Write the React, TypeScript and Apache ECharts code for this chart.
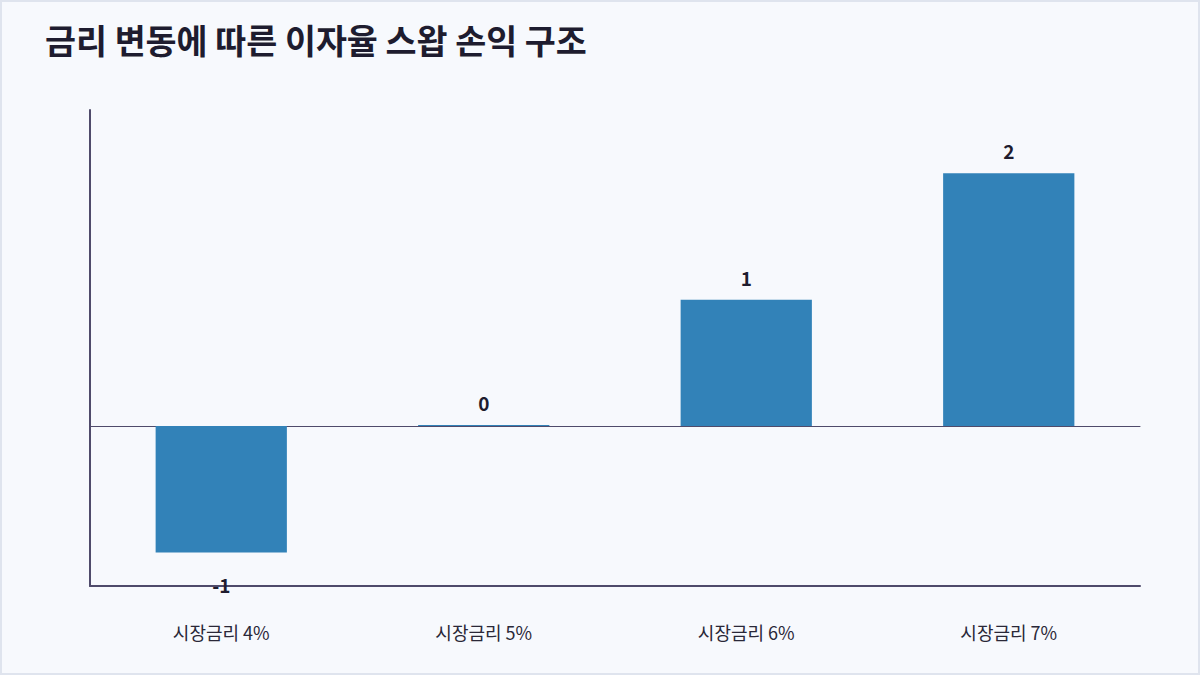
import * as echarts from "echarts";
import { useEffect, useRef } from "react";

const categories = ["시장금리 4%", "시장금리 5%", "시장금리 6%", "시장금리 7%"];
const values = [-1, 0, 1, 2];

const TITLE = "금리 변동에 따른 이자율 스왑 손익 구조";
const FONT = "'Noto Sans CJK KR', 'Noto Sans', sans-serif";

export default function App() {
  const chartRef = useRef<HTMLDivElement>(null);

  useEffect(() => {
    document.body.style.margin = "0";
    if (!chartRef.current) return;

    const chart = echarts.init(chartRef.current, null, { renderer: "svg" });

    const option: echarts.EChartsOption = {
      animation: false,
      textStyle: { fontFamily: FONT },
      title: {
        text: TITLE,
        left: 38,
        top: 16,
        textStyle: { fontSize: 33.7, fontWeight: "bold", color: "#1e1c2f", fontFamily: FONT },
      },
      grid: { left: 88, right: 58, top: 108, bottom: 87 },
      xAxis: [
        {
          type: "category",
          data: categories,
          axisLine: { onZero: false, lineStyle: { color: "#4f4b6b", width: 2 } },
          axisTick: { show: false },
          axisLabel: { margin: 37, fontSize: 18, color: "#2a2838", fontFamily: FONT },
        },
        {
          // zero line
          type: "category",
          data: categories,
          position: "bottom",
          axisLine: { onZero: true, lineStyle: { color: "#4f4b6b", width: 1 } },
          axisTick: { show: false },
          axisLabel: { show: false },
        },
      ],
      yAxis: {
        type: "value",
        min: -1.265,
        max: 2.5,
        axisLine: { show: true, lineStyle: { color: "#4f4b6b", width: 2 } },
        axisTick: { show: false },
        axisLabel: { show: false },
        splitLine: { show: false },
      },
      series: [
        {
          type: "bar",
          barWidth: "50%",
          barMinHeight: 1,
          itemStyle: { color: "#3282b8" },
          data: values.map((v) => ({
            value: v,
            label:
              v < 0
                ? { position: "bottom", distance: 22 }
                : { position: "top", distance: 13 },
          })),
          label: {
            show: true,
            fontSize: 19,
            fontWeight: "bold",
            color: "#1e1c2f",
            fontFamily: FONT,
          },
        },
      ],
    };

    chart.setOption(option);

    const handleResize = () => chart.resize();
    window.addEventListener("resize", handleResize);

    return () => {
      window.removeEventListener("resize", handleResize);
      chart.dispose();
    };
  }, []);

  return (
    <div
      style={{
        width: 1200,
        height: 675,
        boxSizing: "border-box",
        border: "2px solid #dfe4ee",
        background: "#f7f9fd",
      }}
    >
      <div ref={chartRef} style={{ width: "100%", height: "100%" }} />
    </div>
  );
}
